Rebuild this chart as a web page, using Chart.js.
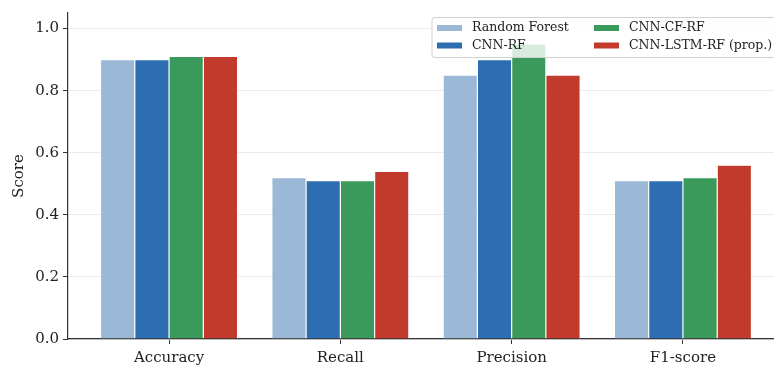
<!DOCTYPE html>
<html>
<head>
<meta charset="utf-8">
<script src="https://cdn.jsdelivr.net/npm/chart.js@4/dist/chart.umd.min.js"></script>
<style>
html,body{margin:0;padding:0;background:#fff;overflow:hidden;}
#wrap{width:790px;height:367px;}
</style>
</head>
<body>
<div id="wrap"><canvas id="c" width="790" height="367"></canvas></div>
<script>
const categories = ["Accuracy", "Recall", "Precision", "F1-score"];
const seriesNames = ["Random Forest", "CNN-RF", "CNN-CF-RF", "CNN-LSTM-RF (prop.)"];
const randomForest = [0.90, 0.52, 0.85, 0.51];
const cnnRf = [0.90, 0.51, 0.90, 0.51];
const cnnCfRf = [0.91, 0.51, 0.95, 0.52];
const cnnLstmRf = [0.91, 0.54, 0.85, 0.56];
const yTicks = [0.0, 0.2, 0.4, 0.6, 0.8, 1.0];
const colors = ["#9bb8d7", "#2c6eb1", "#3a9a5c", "#c13a2c"];

const FONT = "'DejaVu Serif', serif";
const seriesValues = [randomForest, cnnRf, cnnCfRf, cnnLstmRf];

const legendPlugin = {
  id: 'boxLegend',
  afterDatasetsDraw(chart) {
    const ctx = chart.ctx;
    ctx.save();
    const bx = 432, by = 17.5, bw = 348, bh = 40;
    ctx.beginPath();
    ctx.roundRect(bx, by, bw, bh, 3);
    ctx.fillStyle = 'rgba(255,255,255,0.8)';
    ctx.fill();
    ctx.strokeStyle = '#d0d0d0';
    ctx.lineWidth = 1;
    ctx.stroke();
    ctx.font = "12.5px " + FONT;
    ctx.textBaseline = 'middle';
    const cols = [437, 594];
    const rows = [28, 45.5];
    seriesNames.forEach((n, i) => {
      const col = Math.floor(i / 2), row = i % 2;
      const x = cols[col], y = rows[row];
      ctx.fillStyle = chart.data.datasets[i].backgroundColor;
      ctx.fillRect(x, y - 3, 25, 6);
      ctx.fillStyle = '#222';
      ctx.fillText(n, x + 35, y);
    });
    ctx.restore();
  }
};

new Chart(document.getElementById('c'), {
  type: 'bar',
  data: {
    datasets: seriesValues.map((vals, k) => ({
      label: seriesNames[k],
      data: vals.map((v, i) => ({x: i, y: v})),
      backgroundColor: colors[k],
      borderColor: 'rgba(255,255,255,0.85)',
      borderWidth: 0.6,
      categoryPercentage: 0.8,
      barPercentage: 1.0
    }))
  },
  options: {
    responsive: false,
    animation: false,
    layout: {padding: {top: 10, right: 6, left: 0, bottom: 0}},
    plugins: {legend: {display: false}, tooltip: {enabled: false}},
    scales: {
      x: {
        type: 'linear',
        offset: false,
        min: -0.59, max: 3.59,
        afterBuildTicks: s => { s.ticks = categories.map((c, i) => ({value: i})); },
        afterFit: s => { s.height = 28; },
        ticks: {callback: v => categories[v], autoSkip: false, maxRotation: 0, padding: 5,
                font: {family: FONT, size: 15}, color: '#222'},
        grid: {offset: false, drawOnChartArea: false, tickLength: 5, tickColor: '#333', tickWidth: 1},
        border: {color: '#333', width: 1.2}
      },
      y: {
        min: 0, max: 1.05,
        afterBuildTicks: s => { s.ticks = yTicks.map(v => ({value: v})); },
        afterFit: s => { s.width = 68; },
        ticks: {callback: v => v.toFixed(1), padding: 4, font: {family: FONT, size: 15}, color: '#222'},
        grid: {color: '#ebebeb', lineWidth: 1, tickLength: 5, tickColor: '#333', tickWidth: 1},
        border: {color: '#333', width: 1.2},
        title: {display: true, text: 'Score', font: {family: FONT, size: 15}, color: '#222', padding: {top: 10, bottom: 0}}
      }
    }
  },
  plugins: [legendPlugin]
});
</script>
</body>
</html>
